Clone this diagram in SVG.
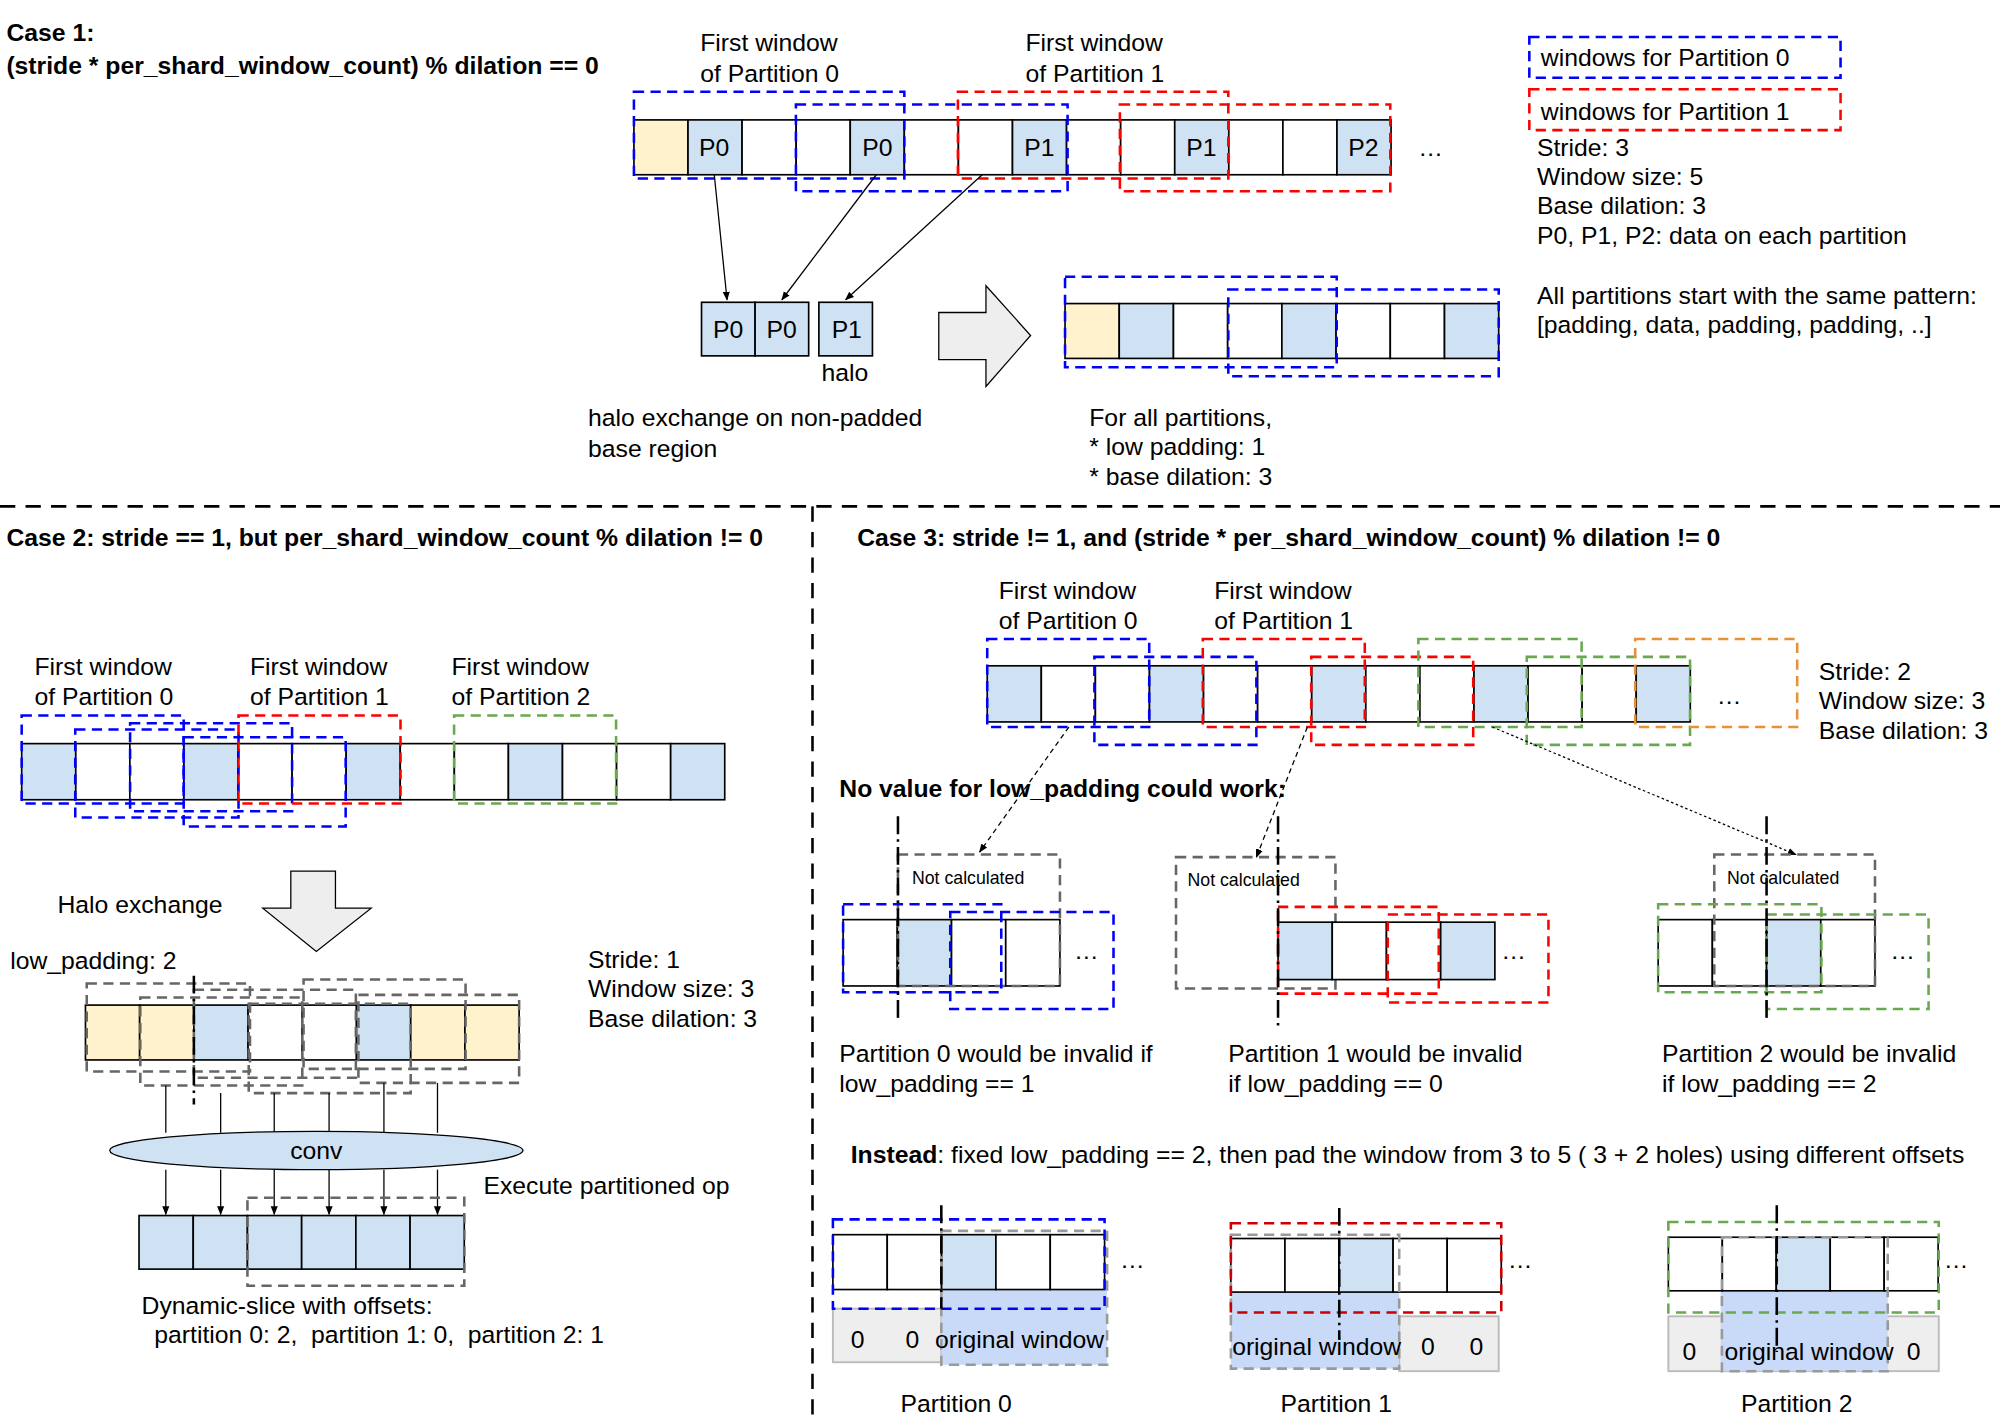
<svg xmlns="http://www.w3.org/2000/svg" width="2000" height="1422" viewBox="0 0 2000 1422">
<defs>
<style>
text{font-family:"Liberation Sans",Arial,sans-serif;font-size:19.4px;fill:#000}
.bd{font-weight:bold}
.sm{font-size:13.9px}
.c{stroke:#000;stroke-width:1.3}
.b{fill:#cfe2f3}.y{fill:#fff2cc}.w{fill:#fff}
.d{fill:none;stroke-width:2;stroke-dasharray:8,5}
.db{stroke:#0000ff}.dr{stroke:#ff0000}.dg{stroke:#6aa84f}.do{stroke:#e69138}.dk{stroke:#666}
.dl{fill:none;stroke:#000;stroke-width:2;stroke-dasharray:12,8}
.dd{fill:none;stroke:#000;stroke-width:2;stroke-dasharray:14,4,2,4}
.ln{stroke:#000;stroke-width:1;fill:none}
</style>
<marker id="ah" viewBox="0 0 10 10" refX="9" refY="5" markerWidth="7" markerHeight="7" orient="auto"><path d="M0,1 L10,5 L0,9 z" fill="#000"/></marker>
</defs>
<rect width="2000" height="1422" fill="#fff"/>
<g transform="scale(1.2755)">
<g id="dividers">
<line class="dl" x1="0" y1="397" x2="1568" y2="397"/>
<line class="dl" x1="637" y1="397" x2="637" y2="1115"/>
</g>
<g id="case1-title"><text class="bd" x="5" y="32">Case 1:</text><text class="bd" x="5" y="58">(stride * per_shard_window_count) % dilation == 0</text></g>
<g id="case1-labels"><text x="549" y="40">First window</text><text x="549" y="64">of Partition 0</text><text x="804" y="40">First window</text><text x="804" y="64">of Partition 1</text></g>
<g id="case1-bar">
<rect class="c y" x="497" y="94" width="42.4" height="43"/><rect class="c b" x="539.4" y="94" width="42.4" height="43"/><rect class="c w" x="581.8" y="94" width="42.4" height="43"/><rect class="c w" x="624.2" y="94" width="42.4" height="43"/><rect class="c b" x="666.6" y="94" width="42.4" height="43"/><rect class="c w" x="709" y="94" width="42.4" height="43"/><rect class="c w" x="751.4" y="94" width="42.4" height="43"/><rect class="c b" x="793.8" y="94" width="42.4" height="43"/><rect class="c w" x="836.2" y="94" width="42.4" height="43"/><rect class="c w" x="878.6" y="94" width="42.4" height="43"/><rect class="c b" x="921" y="94" width="42.4" height="43"/><rect class="c w" x="963.4" y="94" width="42.4" height="43"/><rect class="c w" x="1005.8" y="94" width="42.4" height="43"/><rect class="c b" x="1048.2" y="94" width="42.4" height="43"/>
<text x="548" y="122">P0</text><text x="676" y="122">P0</text><text x="803" y="122">P1</text><text x="930" y="122">P1</text><text x="1057" y="122">P2</text><text x="1112" y="122">…</text>
<rect class="d db" x="497" y="72" width="212" height="68"/><rect class="d db" x="624" y="82" width="213" height="68"/>
<rect class="d dr" x="751" y="72" width="212" height="68"/><rect class="d dr" x="878" y="82" width="212" height="68"/>
</g>
<g id="case1-connectors">
<line class="ln" x1="560" y1="137" x2="570" y2="235" marker-end="url(#ah)"/>
<line class="ln" x1="687" y1="137" x2="613" y2="235" marker-end="url(#ah)"/>
<line class="ln" x1="770" y1="137" x2="663" y2="235" marker-end="url(#ah)"/>
</g>
<g id="case1-halo">
<rect class="c b" x="550" y="237" width="42" height="42"/><rect class="c b" x="592" y="237" width="42" height="42"/><rect class="c b" x="642" y="237" width="42" height="42"/>
<text x="559" y="265">P0</text><text x="601" y="265">P0</text><text x="652" y="265">P1</text><text x="644" y="299">halo</text>
</g>
<g id="case1-bigarrow"><path d="M736,245 H773 V224 L808,263 L773,303 V282 H736 Z" fill="#eee" stroke="#000" stroke-width="1"/></g>
<g id="case1-bar2">
<rect class="c y" x="835" y="238" width="42.5" height="43"/><rect class="c b" x="877.5" y="238" width="42.5" height="43"/><rect class="c w" x="920" y="238" width="42.5" height="43"/><rect class="c w" x="962.5" y="238" width="42.5" height="43"/><rect class="c b" x="1005" y="238" width="42.5" height="43"/><rect class="c w" x="1047.5" y="238" width="42.5" height="43"/><rect class="c w" x="1090" y="238" width="42.5" height="43"/><rect class="c b" x="1132.5" y="238" width="42.5" height="43"/>
<rect class="d db" x="835" y="217" width="213" height="71"/><rect class="d db" x="963" y="227" width="212" height="68"/>
</g>
<g id="case1-texts">
<text x="461" y="334">halo exchange on non-padded</text><text x="461" y="358">base region</text>
<text x="854" y="334">For all partitions,</text><text x="854" y="357">* low padding: 1</text><text x="854" y="380">* base dilation: 3</text>
</g>
<g id="legend">
<rect class="d db" x="1199" y="29" width="244" height="32"/><text x="1208" y="52">windows for Partition 0</text>
<rect class="d dr" x="1199" y="70" width="244" height="32"/><text x="1208" y="94">windows for Partition 1</text>
<text x="1205" y="122">Stride: 3</text><text x="1205" y="145">Window size: 5</text><text x="1205" y="168">Base dilation: 3</text><text x="1205" y="191">P0, P1, P2: data on each partition</text>
<text x="1205" y="238">All partitions start with the same pattern:</text><text x="1205" y="261">[padding, data, padding, padding, ..]</text>
</g>
<g id="case2-title"><text class="bd" x="5" y="428">Case 2: stride == 1, but per_shard_window_count % dilation != 0</text></g>
<g id="case2-labels"><text x="27" y="529">First window</text><text x="27" y="553">of Partition 0</text><text x="196" y="529">First window</text><text x="196" y="553">of Partition 1</text><text x="354" y="529">First window</text><text x="354" y="553">of Partition 2</text></g>
<g id="case2-bar">
<rect class="c b" x="17" y="583" width="42.4" height="44"/><rect class="c w" x="59.4" y="583" width="42.4" height="44"/><rect class="c w" x="101.8" y="583" width="42.4" height="44"/><rect class="c b" x="144.2" y="583" width="42.4" height="44"/><rect class="c w" x="186.6" y="583" width="42.4" height="44"/><rect class="c w" x="229" y="583" width="42.4" height="44"/><rect class="c b" x="271.4" y="583" width="42.4" height="44"/><rect class="c w" x="313.8" y="583" width="42.4" height="44"/><rect class="c w" x="356.2" y="583" width="42.4" height="44"/><rect class="c b" x="398.6" y="583" width="42.4" height="44"/><rect class="c w" x="441" y="583" width="42.4" height="44"/><rect class="c w" x="483.4" y="583" width="42.4" height="44"/><rect class="c b" x="525.8" y="583" width="42.4" height="44"/>
<rect class="d db" x="17" y="561" width="127" height="69"/><rect class="d db" x="59" y="572" width="128" height="69"/><rect class="d db" x="102" y="567" width="127" height="69"/><rect class="d db" x="144" y="578" width="127" height="70"/>
<rect class="d dr" x="187" y="561" width="127" height="69"/><rect class="d dg" x="356" y="561" width="127" height="69"/>
</g>
<g id="case2-arrow"><text x="45" y="716">Halo exchange</text><path d="M228,683 H263 V712 H291 L248,746 L206,712 H228 Z" fill="#eee" stroke="#000" stroke-width="1"/></g>
<g id="case2-bar2">
<text x="8" y="760">low_padding: 2</text>
<rect class="c y" x="67" y="788" width="42.5" height="43"/><rect class="c y" x="109.5" y="788" width="42.5" height="43"/><rect class="c b" x="152" y="788" width="42.5" height="43"/><rect class="c w" x="194.5" y="788" width="42.5" height="43"/><rect class="c w" x="237" y="788" width="42.5" height="43"/><rect class="c b" x="279.5" y="788" width="42.5" height="43"/><rect class="c y" x="322" y="788" width="42.5" height="43"/><rect class="c y" x="364.5" y="788" width="42.5" height="43"/>
<rect class="d dk" x="68" y="771" width="128" height="69"/><rect class="d dk" x="110" y="782" width="127" height="69"/><rect class="d dk" x="152" y="776" width="127" height="69"/><rect class="d dk" x="195" y="787" width="127" height="70"/><rect class="d dk" x="238" y="768" width="127" height="70"/><rect class="d dk" x="281" y="780" width="126" height="69"/>
<line class="dd" x1="152" y1="765" x2="152" y2="866"/>
<text x="461" y="759">Stride: 1</text><text x="461" y="782">Window size: 3</text><text x="461" y="805">Base dilation: 3</text>
</g>
<g id="case2-conv-connectors">
<path class="ln" d="M130,851V888M173,857V888M215,857V888M258,857V888M301,849V888M343,849V888"/>
<line class="ln" x1="130" y1="917" x2="130" y2="952" marker-end="url(#ah)"/><line class="ln" x1="173" y1="917" x2="173" y2="952" marker-end="url(#ah)"/><line class="ln" x1="215" y1="917" x2="215" y2="952" marker-end="url(#ah)"/><line class="ln" x1="258" y1="917" x2="258" y2="952" marker-end="url(#ah)"/><line class="ln" x1="301" y1="917" x2="301" y2="952" marker-end="url(#ah)"/><line class="ln" x1="343" y1="917" x2="343" y2="952" marker-end="url(#ah)"/>
</g>
<g id="conv"><ellipse cx="248" cy="902" rx="162" ry="15" fill="#cfe2f3" stroke="#000" stroke-width="1"/><text x="248" y="909" text-anchor="middle">conv</text></g>
<g id="case2-out">
<rect class="c b" x="109" y="953" width="42.5" height="42"/><rect class="c b" x="151.5" y="953" width="42.5" height="42"/><rect class="c b" x="194" y="953" width="42.5" height="42"/><rect class="c b" x="236.5" y="953" width="42.5" height="42"/><rect class="c b" x="279" y="953" width="42.5" height="42"/><rect class="c b" x="321.5" y="953" width="42.5" height="42"/>
<rect class="d dk" x="194" y="939" width="170" height="69"/>
<text x="379" y="936">Execute partitioned op</text>
<text x="111" y="1030">Dynamic-slice with offsets:</text><text x="121" y="1053" xml:space="preserve">partition 0: 2,  partition 1: 0,  partition 2: 1</text>
</g>
<g id="case3-title"><text class="bd" x="672" y="428">Case 3: stride != 1, and (stride * per_shard_window_count) % dilation != 0</text></g>
<g id="case3-labels"><text x="783" y="470">First window</text><text x="783" y="493">of Partition 0</text><text x="952" y="470">First window</text><text x="952" y="493">of Partition 1</text></g>
<g id="case3-bar">
<rect class="c b" x="774" y="522" width="42.4" height="44"/><rect class="c w" x="816.4" y="522" width="42.4" height="44"/><rect class="c w" x="858.8" y="522" width="42.4" height="44"/><rect class="c b" x="901.2" y="522" width="42.4" height="44"/><rect class="c w" x="943.6" y="522" width="42.4" height="44"/><rect class="c w" x="986" y="522" width="42.4" height="44"/><rect class="c b" x="1028.4" y="522" width="42.4" height="44"/><rect class="c w" x="1070.8" y="522" width="42.4" height="44"/><rect class="c w" x="1113.2" y="522" width="42.4" height="44"/><rect class="c b" x="1155.6" y="522" width="42.4" height="44"/><rect class="c w" x="1198" y="522" width="42.4" height="44"/><rect class="c w" x="1240.4" y="522" width="42.4" height="44"/><rect class="c b" x="1282.8" y="522" width="42.4" height="44"/>
<text x="1346" y="552">…</text>
<rect class="d db" x="774" y="501" width="127" height="69"/><rect class="d db" x="858" y="515" width="127" height="69"/>
<rect class="d dr" x="943" y="501" width="127" height="69"/><rect class="d dr" x="1028" y="515" width="127" height="69"/>
<rect class="d dg" x="1112" y="501" width="128" height="69"/><rect class="d dg" x="1197" y="515" width="128" height="69"/>
<rect class="d do" x="1282" y="501" width="127" height="69"/>
<text x="1426" y="533">Stride: 2</text><text x="1426" y="556">Window size: 3</text><text x="1426" y="579">Base dilation: 3</text>
</g>
<g id="case3-connectors">
<line class="ln" stroke-dasharray="4,3" x1="838" y1="570" x2="768" y2="668" marker-end="url(#ah)"/>
<line class="ln" stroke-dasharray="4,3" x1="1025" y1="570" x2="985" y2="672" marker-end="url(#ah)"/>
<line class="ln" stroke-dasharray="2,2" x1="1170" y1="570" x2="1408" y2="670" marker-end="url(#ah)"/>
</g>
<text class="bd" x="658" y="625">No value for low_padding could work:</text>
<g id="case3-p0">
<rect class="c w" x="661" y="721" width="42.5" height="52"/><rect class="c b" x="703.5" y="721" width="42.5" height="52"/><rect class="c w" x="746" y="721" width="42.5" height="52"/><rect class="c w" x="788.5" y="721" width="42.5" height="52"/>
<rect class="d dk" x="704" y="670" width="127" height="103"/><text class="sm" x="715" y="693">Not calculated</text>
<rect class="d db" x="661" y="709" width="124" height="69"/><rect class="d db" x="745" y="715" width="128" height="76"/>
<line class="dd" x1="704" y1="640" x2="704" y2="802"/><text x="842" y="752">…</text>
<text x="658" y="833">Partition 0 would be invalid if</text><text x="658" y="856">low_padding == 1</text>
</g>
<g id="case3-p1">
<rect class="d dk" x="922" y="672" width="125" height="103"/><text class="sm" x="931" y="695">Not calculated</text>
<rect class="c b" x="1002" y="723" width="42.5" height="45"/><rect class="c w" x="1044.5" y="723" width="42.5" height="45"/><rect class="c w" x="1087" y="723" width="42.5" height="45"/><rect class="c b" x="1129.5" y="723" width="42.5" height="45"/>
<rect class="d dr" x="1002" y="711" width="126" height="68"/><rect class="d dr" x="1088" y="717" width="126" height="69"/>
<line class="dd" x1="1002" y1="640" x2="1002" y2="806"/><text x="1177" y="752">…</text>
<text x="963" y="833">Partition 1 would be invalid</text><text x="963" y="856">if low_padding == 0</text>
</g>
<g id="case3-p2">
<rect class="c w" x="1300" y="721" width="42.5" height="52"/><rect class="c w" x="1342.5" y="721" width="42.5" height="52"/><rect class="c b" x="1385" y="721" width="42.5" height="52"/><rect class="c w" x="1427.5" y="721" width="42.5" height="52"/>
<rect class="d dk" x="1344" y="670" width="126" height="103"/><text class="sm" x="1354" y="693">Not calculated</text>
<rect class="d dg" x="1300" y="709" width="128" height="69"/><rect class="d dg" x="1385" y="717" width="127" height="74"/>
<line class="dd" x1="1385" y1="640" x2="1385" y2="802"/><text x="1482" y="752">…</text>
<text x="1303" y="833">Partition 2 would be invalid</text><text x="1303" y="856">if low_padding == 2</text>
</g>
<text x="667" y="912"><tspan class="bd">Instead</tspan>: fixed low_padding == 2, then pad the window from 3 to 5 ( 3 + 2 holes) using different offsets</text>
<g id="bottom-p0">
<rect x="653" y="1026" width="85" height="42" fill="#eee" stroke="#bbb" stroke-width="1.5"/>
<rect x="738" y="1011" width="130" height="59" fill="#c9daf8"/>
<rect class="c w" x="653" y="968" width="42.6" height="43"/><rect class="c w" x="695.6" y="968" width="42.6" height="43"/><rect class="c b" x="738.2" y="968" width="42.6" height="43"/><rect class="c w" x="780.8" y="968" width="42.6" height="43"/><rect class="c w" x="823.4" y="968" width="42.6" height="43"/>
<rect class="d" stroke="#999" x="738" y="965" width="130" height="105"/>
<rect class="d db" x="653" y="956" width="213" height="70"/>
<line class="dd" x1="738" y1="945" x2="738" y2="1026"/>
<text x="667" y="1057">0</text><text x="710" y="1057">0</text><text x="733" y="1057">original window</text><text x="878" y="994">…</text>
<text x="706" y="1107">Partition 0</text>
</g>
<g id="bottom-p1">
<rect x="1097" y="1032" width="78" height="43" fill="#eee" stroke="#bbb" stroke-width="1.5"/>
<rect x="965" y="1013" width="132" height="60" fill="#c9daf8"/>
<rect class="c w" x="965" y="971" width="42.4" height="42"/><rect class="c w" x="1007.4" y="971" width="42.4" height="42"/><rect class="c b" x="1049.8" y="971" width="42.4" height="42"/><rect class="c w" x="1092.2" y="971" width="42.4" height="42"/><rect class="c w" x="1134.6" y="971" width="42.4" height="42"/>
<rect class="d" stroke="#999" x="965" y="968" width="132" height="105"/>
<rect class="d" stroke="#cc0000" x="965" y="959" width="212" height="70"/>
<line class="dd" x1="1050" y1="947" x2="1050" y2="1050"/>
<text x="966" y="1062">original window</text><text x="1114" y="1062">0</text><text x="1152" y="1062">0</text><text x="1182" y="994">…</text>
<text x="1004" y="1107">Partition 1</text>
</g>
<g id="bottom-p2">
<rect x="1308" y="1032" width="212" height="43" fill="#eee" stroke="#bbb" stroke-width="1.5"/>
<rect x="1349" y="1012" width="131" height="63" fill="#c9daf8"/>
<rect class="c w" x="1308" y="970" width="42.3" height="42"/><rect class="c w" x="1350.3" y="970" width="42.3" height="42"/><rect class="c b" x="1392.6" y="970" width="42.3" height="42"/><rect class="c w" x="1434.9" y="970" width="42.3" height="42"/><rect class="c w" x="1477.2" y="970" width="42.3" height="42"/>
<rect class="d" stroke="#999" x="1350" y="970" width="130" height="105"/>
<rect class="d dg" x="1308" y="958" width="212" height="71"/>
<line class="dd" x1="1393" y1="945" x2="1393" y2="1060"/>
<text x="1319" y="1066">0</text><text x="1352" y="1066">original window</text><text x="1495" y="1066">0</text><text x="1524" y="994">…</text>
<text x="1365" y="1107">Partition 2</text>
</g>
</g>
</svg>
